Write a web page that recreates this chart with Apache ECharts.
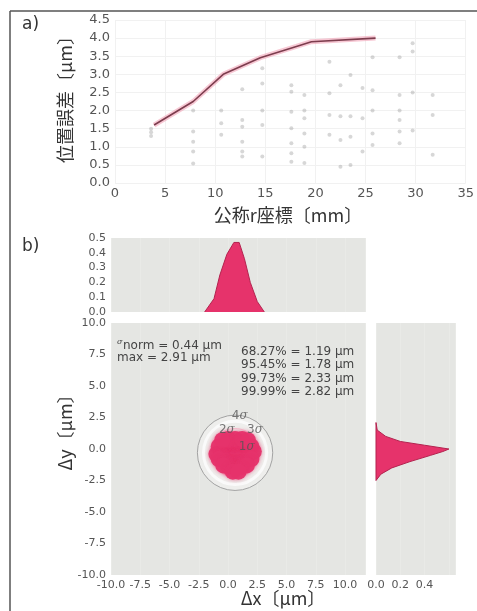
<!DOCTYPE html>
<html>
<head>
<meta charset="utf-8">
<script src="https://cdn.jsdelivr.net/npm/echarts@6/dist/echarts.min.js"></script>
<style>
  html, body { margin: 0; padding: 0; background: #fff; }
  #chart { width: 477px; height: 611px; }
</style>
</head>
<body>
<div id="chart"></div>
<script>
// --- a) 位置誤差 vs 公称r座標 ---
const rLine = [3.9, 7.8, 10.8, 14.5, 18.1, 19.6, 26.0];
const errLine = [1.6, 2.25, 3.0, 3.46, 3.77, 3.9, 4.0];
const rPts = [
  3.6, 3.6, 3.6,
  7.8, 7.8, 7.8, 7.8, 7.8,
  10.6, 10.6, 10.6,
  12.7, 12.7, 12.7, 12.7, 12.7, 12.7,
  14.7, 14.7, 14.7, 14.7, 14.7,
  17.6, 17.6, 17.6, 17.6, 17.6, 17.6, 17.6,
  18.9, 18.9, 18.9, 18.9, 18.9, 18.9,
  21.4, 21.4, 21.4, 21.4,
  22.5, 22.5, 22.5, 22.5,
  23.5, 23.5, 23.5, 23.5,
  24.7, 24.7, 24.7,
  25.7, 25.7, 25.7, 25.7, 25.7,
  28.4, 28.4, 28.4, 28.4, 28.4, 28.4,
  29.7, 29.7, 29.7, 29.7,
  31.7, 31.7, 31.7
];
const errPts = [
  1.5, 1.4, 1.3,
  2.0, 1.42, 1.14, 0.87, 0.54,
  2.0, 1.65, 1.33,
  2.59, 1.74, 1.55, 1.14, 0.87, 0.73,
  3.17, 2.75, 2.0, 1.6, 0.73,
  2.7, 2.52, 1.97, 1.51, 1.1, 0.82, 0.59,
  2.43, 2.0, 1.79, 1.37, 1.0, 0.55,
  3.35, 2.48, 1.88, 1.33,
  2.7, 1.84, 1.19, 0.45,
  2.98, 1.84, 1.28, 0.5,
  2.62, 1.79, 0.87,
  3.47, 2.56, 2.0, 1.37, 1.05,
  3.47, 2.43, 2.0, 1.74, 1.42, 1.1,
  3.86, 3.63, 2.5, 1.45,
  2.43, 1.88, 0.78
];

// --- b) Δx / Δy distribution ---
const blobX = [0.6, 0.0, 1.2, -0.6, 1.8, -1.0, 2.2,
  0.3, 0.9, -0.3, 1.5, -0.8, 2.0,
  0.6, 0.0, 1.2, -0.5, 1.7,
  0.3, 0.9, -0.3, 1.5, -0.8, 2.0,
  0.6, 0.0, 1.2, -0.4, 1.6,
  0.4, 0.9];
const blobY = [-0.3, -0.3, -0.3, -0.3, -0.4, -0.4, -0.2,
  0.3, 0.3, 0.3, 0.3, 0.2, 0.2,
  0.8, 0.8, 0.8, 0.7, 0.7,
  -0.9, -0.9, -0.9, -0.9, -0.8, -0.8,
  -1.4, -1.4, -1.4, -1.3, -1.3,
  -1.8, -1.8];
const circleCx = 0.6;
const circleCy = -0.3;
const circleR = [1.4, 2.0, 2.6, 3.1];
const sigmaNames = ['4σ', '2σ', '3σ', '1σ'];
const sigmaX = [1.0, -0.1, 2.3, 1.6];
const sigmaY = [2.6, 1.5, 1.5, 0.2];

const topHistX = [-2.0, -1.2, -0.7, -0.1, 0.5, 0.95, 1.4, 1.9, 2.5, 3.1];
const topHistV = [0.0, 0.09, 0.25, 0.39, 0.47, 0.47, 0.36, 0.2, 0.07, 0.0];
const rightHistY = [2.1, 1.5, 1.0, 0.6, 0.3, 0.0, -0.2, -0.5, -1.0, -1.5, -2.0, -2.5];
const rightHistV = [0.0, 0.01, 0.08, 0.2, 0.4, 0.6, 0.55, 0.45, 0.28, 0.13, 0.04, 0.0];

const statLines = ['68.27% = 1.19 μm', '95.45% = 1.78 μm', '99.73% = 2.33 μm', '99.99% = 2.82 μm'];

const FONT = '"Noto Sans CJK JP", "Noto Sans", sans-serif';
const NUMFONT = '"DejaVu Sans", sans-serif';
const PINK = '#e6336b';
const PANEL = '#e5e6e3';
const GRIDB = '#e9eae7';

const chart = echarts.init(document.getElementById('chart'), null, { renderer: 'canvas' });

const fmt1 = v => v.toFixed(1);
const tickLabel = (size) => ({ color: '#555', fontSize: size, fontFamily: NUMFONT });

const option = {
  animation: false,
  backgroundColor: '#fff',
  grid: [
    { left: 115, top: 20, width: 357, height: 163 },
    { left: 111, top: 238, width: 254, height: 74, show: true, backgroundColor: PANEL, borderWidth: 0 },
    { left: 111, top: 323, width: 254, height: 252, show: true, backgroundColor: PANEL, borderWidth: 0 },
    { left: 376, top: 323, width: 79, height: 252, show: true, backgroundColor: PANEL, borderWidth: 0 }
  ],
  xAxis: [
    {
      gridIndex: 0, type: 'value', min: 0, max: 35, interval: 5,
      axisLine: { show: false }, axisTick: { show: false },
      axisLabel: Object.assign(tickLabel(13), { margin: 4 }),
      splitLine: { lineStyle: { color: '#f1f1f1' } }
    },
    {
      gridIndex: 1, type: 'value', min: -10, max: 11.7, interval: 2.5,
      axisLine: { show: false }, axisTick: { show: false }, axisLabel: { show: false },
      splitLine: { lineStyle: { color: GRIDB } }
    },
    {
      gridIndex: 2, type: 'value', min: -10, max: 11.7, interval: 2.5,
      axisLine: { show: false }, axisTick: { show: false },
      axisLabel: Object.assign(tickLabel(11), { margin: 5, formatter: v => (v > 10 ? '' : fmt1(v)) }),
      splitLine: { lineStyle: { color: GRIDB } }
    },
    {
      gridIndex: 3, type: 'value', min: 0, max: 0.65, interval: 0.2,
      axisLine: { show: false }, axisTick: { show: false },
      axisLabel: Object.assign(tickLabel(11), { margin: 5, formatter: v => (v > 0.5 ? '' : fmt1(v)) }),
      splitLine: { lineStyle: { color: GRIDB } }
    }
  ],
  yAxis: [
    {
      gridIndex: 0, type: 'value', min: 0, max: 4.5, interval: 0.5,
      axisLine: { show: false }, axisTick: { show: false },
      axisLabel: Object.assign(tickLabel(13), { margin: 5, formatter: fmt1 }),
      splitLine: { lineStyle: { color: '#f1f1f1' } }
    },
    {
      gridIndex: 1, type: 'value', min: 0, max: 0.5, interval: 0.1,
      axisLine: { show: false }, axisTick: { show: false },
      axisLabel: Object.assign(tickLabel(11), { margin: 5, formatter: fmt1 }),
      splitLine: { show: false }
    },
    {
      gridIndex: 2, type: 'value', min: -10, max: 10, interval: 2.5,
      axisLine: { show: false }, axisTick: { show: false },
      axisLabel: Object.assign(tickLabel(11), { margin: 5, formatter: fmt1 }),
      splitLine: { show: false }
    },
    {
      gridIndex: 3, type: 'value', min: -10, max: 10, interval: 2.5,
      axisLine: { show: false }, axisTick: { show: false }, axisLabel: { show: false },
      splitLine: { show: false }
    }
  ],
  series: [
    {
      type: 'scatter', xAxisIndex: 0, yAxisIndex: 0,
      symbolSize: 4,
      itemStyle: { color: '#9a9a9a', opacity: 0.4 },
      data: rPts.map((r, i) => [r, errPts[i]])
    },
    {
      type: 'line', xAxisIndex: 0, yAxisIndex: 0,
      symbol: 'none',
      lineStyle: { color: '#f2a3b8', width: 5, opacity: 0.6 },
      data: rLine.map((r, i) => [r, errLine[i]])
    },
    {
      type: 'line', xAxisIndex: 0, yAxisIndex: 0,
      symbol: 'none',
      lineStyle: { color: '#7d3d4e', width: 1.6 },
      data: rLine.map((r, i) => [r, errLine[i]])
    },
    {
      type: 'line', xAxisIndex: 1, yAxisIndex: 1,
      symbol: 'none',
      lineStyle: { color: '#b3234f', width: 1 },
      areaStyle: { color: PINK, opacity: 1 },
      data: topHistX.map((x, i) => [x, topHistV[i]])
    },
    {
      type: 'custom', xAxisIndex: 2, yAxisIndex: 2,
      encode: { x: 0, y: 1 },
      data: circleR.map(r => [circleCx, circleCy, r]).reverse(),
      renderItem: (params, api) => {
        const c = api.coord([api.value(0), api.value(1)]);
        const s = api.size([api.value(2), api.value(2)]);
        // outer circle first
        const styles = [
          { fill: '#eeeeec', stroke: '#a3a3a3', lineWidth: 1 },
          { fill: 'none', stroke: '#fafafa', lineWidth: 3 },
          { fill: 'none', stroke: '#f7c4d3', lineWidth: 1 },
          { fill: 'none', stroke: '#f7c4d3', lineWidth: 1 }
        ];
        return {
          type: 'circle',
          shape: { cx: c[0], cy: c[1], r: (s[0] + s[1]) / 2 },
          style: styles[params.dataIndex]
        };
      }
    },
    {
      type: 'scatter', xAxisIndex: 2, yAxisIndex: 2,
      symbolSize: 16,
      itemStyle: { color: PINK, opacity: 0.95, shadowBlur: 4, shadowColor: 'rgba(230,51,107,0.6)' },
      data: blobX.map((x, i) => [x, blobY[i]])
    },
    {
      type: 'scatter', xAxisIndex: 2, yAxisIndex: 2,
      symbolSize: 0, z: 5,
      label: {
        show: true, position: 'inside',
        formatter: p => '{n|' + p.name.slice(0, 1) + '}{s|σ}',
        rich: {
          n: { fontSize: 12, color: '#555', fontFamily: NUMFONT },
          s: { fontSize: 12, color: '#555', fontStyle: 'italic', fontFamily: 'DejaVu Serif' }
        }
      },
      data: sigmaNames.map((n, i) => ({ name: n, value: [sigmaX[i], sigmaY[i]] }))
    },
    {
      type: 'custom', xAxisIndex: 3, yAxisIndex: 3,
      encode: { x: 0, y: 1 },
      data: rightHistY.map((y, i) => [rightHistV[i], y]),
      renderItem: (params, api) => {
        if (params.dataIndex !== 0) return null;
        const pts = rightHistY.map((y, i) => api.coord([rightHistV[i], y]));
        const b0 = api.coord([0, rightHistY[0]]);
        const b1 = api.coord([0, rightHistY[rightHistY.length - 1]]);
        return {
          type: 'polygon',
          shape: { points: [b0].concat(pts, [b1]) },
          style: { fill: PINK, stroke: '#b3234f', lineWidth: 1 }
        };
      }
    }
  ],
  graphic: [
    { type: 'line', z: 100, shape: { x1: 10, y1: 11, x2: 477, y2: 11 }, style: { stroke: '#555', lineWidth: 1.5 } },
    { type: 'line', z: 100, shape: { x1: 10, y1: 11, x2: 10, y2: 611 }, style: { stroke: '#555', lineWidth: 1.5 } },
    { type: 'text', z: 100, x: 22, y: 25, style: { text: 'a)', font: '17px ' + NUMFONT, fill: '#333', align: 'left', verticalAlign: 'middle' } },
    { type: 'text', z: 100, x: 22, y: 247, style: { text: 'b)', font: '17px ' + NUMFONT, fill: '#333', align: 'left', verticalAlign: 'middle' } },
    { type: 'text', z: 100, x: 65, y: 95, rotation: Math.PI / 2, style: { text: '位置誤差〔μm〕', font: '18px ' + FONT, fill: '#333', align: 'center', verticalAlign: 'middle' } },
    { type: 'text', z: 100, x: 288, y: 215, style: { text: '公称r座標〔mm〕', font: '18px ' + FONT, fill: '#333', align: 'center', verticalAlign: 'middle' } },
    { type: 'text', z: 100, x: 65, y: 428, rotation: Math.PI / 2, style: { text: 'Δy〔μm〕', font: '18px ' + FONT, fill: '#333', align: 'center', verticalAlign: 'middle' } },
    { type: 'text', z: 100, x: 283, y: 598, style: { text: 'Δx〔μm〕', font: '18px ' + FONT, fill: '#333', align: 'center', verticalAlign: 'middle' } },
    { type: 'text', z: 100, x: 117, y: 342, style: { text: 'σ', font: 'italic 8px "DejaVu Serif"', fill: '#444', align: 'left', verticalAlign: 'middle' } },
    { type: 'text', z: 100, x: 123, y: 346, style: { text: 'norm = 0.44 μm', font: '12px ' + NUMFONT, fill: '#444', align: 'left', verticalAlign: 'middle' } },
    { type: 'text', z: 100, x: 117, y: 358, style: { text: 'max = 2.91 μm', font: '12px ' + NUMFONT, fill: '#444', align: 'left', verticalAlign: 'middle' } }
  ].concat(statLines.map((t, i) => ({
    type: 'text', z: 100, x: 241, y: 352 + i * 13.3,
    style: { text: t, font: '12px ' + NUMFONT, fill: '#444', align: 'left', verticalAlign: 'middle' }
  })))
};

chart.setOption(option);
window.addEventListener('resize', () => chart.resize());
</script>
</body>
</html>
